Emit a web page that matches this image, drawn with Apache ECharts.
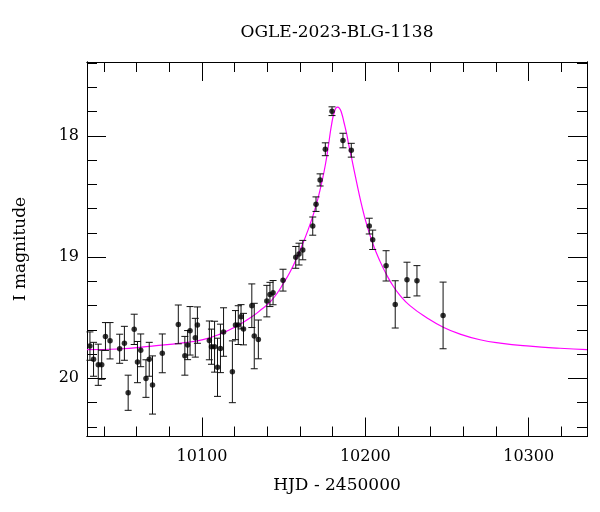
<!DOCTYPE html>
<html>
<head>
<meta charset="utf-8">
<script src="https://cdn.jsdelivr.net/npm/echarts@6/dist/echarts.min.js"></script>
<style>html,body{margin:0;padding:0;background:#fff}#c{width:600px;height:512px}</style>
</head>
<body>
<div id="c"></div>
<script>
var titleText = 'OGLE-2023-BLG-1138';
var xTitle = 'HJD - 2450000';
var yTitle = 'I magnitude';

var hjd = [10031.4, 10033.6, 10036.5, 10038.6, 10040.9, 10043.7, 10049.6, 10052.5, 10054.8, 10058.5,
  10060.5, 10062.5, 10065.7, 10067.7, 10069.7, 10075.7, 10085.5, 10089.5, 10091.2, 10092.7,
  10095.9, 10097.2, 10104.5, 10105.8, 10107.7, 10109.5, 10111.3, 10113.2, 10118.6, 10120.5,
  10122.2, 10123.9, 10125.4, 10130.5, 10132.0, 10134.5, 10139.7, 10141.6, 10143.5, 10149.6,
  10157.4, 10159.4, 10161.7, 10167.8, 10169.8, 10172.3, 10175.5, 10179.6, 10186.3, 10191.4,
  10202.4, 10204.5, 10212.7, 10218.3, 10225.5, 10231.6, 10247.6];
var mag = [19.734, 19.843, 19.888, 19.888, 19.655, 19.690, 19.756, 19.711, 20.119, 19.596,
  19.866, 19.769, 20.002, 19.843, 20.055, 19.794, 19.555, 19.814, 19.726, 19.608,
  19.665, 19.561, 19.687, 19.739, 19.739, 19.909, 19.753, 19.618, 19.946, 19.561,
  19.561, 19.492, 19.594, 19.401, 19.651, 19.679, 19.363, 19.308, 19.293, 19.190,
  19.002, 18.975, 18.942, 18.744, 18.563, 18.363, 18.110, 17.796, 18.038, 18.118,
  18.744, 18.857, 19.072, 19.390, 19.187, 19.195, 19.481];
var magErr = [0.117, 0.14, 0.17, 0.12, 0.115, 0.15, 0.12, 0.14, 0.145, 0.125,
  0.17, 0.135, 0.155, 0.14, 0.24, 0.16, 0.16, 0.16, 0.12, 0.2,
  0.16, 0.15, 0.16, 0.145, 0.21, 0.24, 0.2, 0.2, 0.255, 0.12,
  0.16, 0.1, 0.13, 0.18, 0.27, 0.16, 0.13, 0.1, 0.1, 0.09,
  0.09, 0.09, 0.08, 0.075, 0.06, 0.05, 0.053, 0.036, 0.06, 0.057,
  0.065, 0.08, 0.125, 0.195, 0.145, 0.125, 0.275];

var modelHjd = [10029.6, 10048.6, 10069.4, 10089.6, 10100.6, 10111.0, 10121.4, 10131.2, 10136.7, 10141.6,
  10145.9, 10149.6, 10153.9, 10157.6, 10161.2, 10164.9, 10168.0, 10171.0, 10173.3, 10175.5,
  10177.5, 10179.4, 10181.1, 10182.8, 10184.2, 10185.5, 10186.9, 10188.6, 10190.0, 10191.7,
  10194.7, 10197.2, 10200.8, 10204.9, 10209.0, 10213.1, 10217.1, 10221.2, 10227.3, 10237.6,
  10247.7, 10258.0, 10270.2, 10282.5, 10300.8, 10319.2, 10335.7];
var modelMag = [19.763, 19.758, 19.734, 19.705, 19.680, 19.635, 19.569, 19.486, 19.428, 19.371,
  19.300, 19.222, 19.122, 19.018, 18.905, 18.777, 18.655, 18.515, 18.385, 18.240,
  18.070, 17.900, 17.800, 17.763, 17.772, 17.813, 17.887, 17.986, 18.085, 18.190,
  18.385, 18.540, 18.730, 18.900, 19.035, 19.148, 19.240, 19.315, 19.400, 19.500,
  19.578, 19.635, 19.682, 19.710, 19.735, 19.752, 19.763];

var xMin = 10029.6, xMax = 10335.7;
var yMin = 17.39, yMax = 20.48;
var xMajor = [10100, 10200, 10300];
var xMinor = [10040, 10060, 10080, 10120, 10140, 10160, 10180, 10220, 10240, 10260, 10280, 10320];
var yMajor = [18, 19, 20];
var yMinor = [17.4, 17.6, 17.8, 18.2, 18.4, 18.6, 18.8, 19.2, 19.4, 19.6, 19.8, 20.2, 20.4];

var FONT = 'DejaVu Serif';
var chart = echarts.init(document.getElementById('c'), null, {renderer: 'canvas'});

function xAx(pos, ticks, len, labels) {
  return {
    type: 'value', position: pos, min: xMin, max: xMax,
    axisLine: {show: true, onZero: false, lineStyle: {color: '#000', width: 1}},
    splitLine: {show: false},
    axisTick: {show: true, inside: true, length: len, customValues: ticks, lineStyle: {color: '#000', width: 1}},
    axisLabel: labels ? {show: true, customValues: ticks, fontFamily: FONT, fontSize: 16, color: '#000', margin: 12,
      formatter: function (v) { return String(v); }} : {show: false}
  };
}
function yAx(pos, ticks, len, labels) {
  return {
    type: 'value', position: pos, min: yMin, max: yMax, inverse: true,
    axisLine: {show: true, onZero: false, lineStyle: {color: '#000', width: 1}},
    splitLine: {show: false},
    axisTick: {show: true, inside: true, length: len, customValues: ticks, lineStyle: {color: '#000', width: 1}},
    axisLabel: labels ? {show: true, customValues: ticks, fontFamily: FONT, fontSize: 16, color: '#000', margin: 8,
      formatter: function (v) { return String(v); }} : {show: false}
  };
}

var errData = hjd.map(function (t, i) { return [t, mag[i] - magErr[i], mag[i] + magErr[i]]; });
var ptData = hjd.map(function (t, i) { return [t, mag[i]]; });
var modelData = modelHjd.map(function (t, i) { return [t, modelMag[i]]; });

chart.setOption({
  animation: false,
  backgroundColor: '#fff',
  grid: {left: 87, right: 13, top: 62, bottom: 75.5, containLabel: false},
  xAxis: [
    xAx('bottom', xMajor, 19, true),
    xAx('bottom', xMinor, 10, false),
    xAx('top', xMajor, 19, false),
    xAx('top', xMinor, 10, false)
  ],
  yAxis: [
    yAx('left', yMajor, 19, true),
    yAx('left', yMinor, 10, false),
    yAx('right', yMajor, 19, false),
    yAx('right', yMinor, 10, false)
  ],
  graphic: [
    {type: 'text', x: 337, y: 33, style: {text: titleText, fontFamily: FONT, fontSize: 17, fill: '#000',
      textAlign: 'center', textVerticalAlign: 'middle'}},
    {type: 'text', x: 337, y: 486, style: {text: xTitle, fontFamily: FONT, fontSize: 17, fill: '#000',
      textAlign: 'center', textVerticalAlign: 'middle'}},
    {type: 'text', x: 21, y: 249, rotation: Math.PI / 2, style: {text: yTitle, fontFamily: FONT, fontSize: 17, fill: '#000',
      textAlign: 'center', textVerticalAlign: 'middle'}}
  ],
  series: [
    {
      type: 'line', xAxisIndex: 0, yAxisIndex: 0, data: modelData, showSymbol: false,
      smooth: 0.5, lineStyle: {color: '#ff00ff', width: 1.2}, z: 3, silent: true
    },
    {
      type: 'custom', xAxisIndex: 0, yAxisIndex: 0, data: errData, z: 4, silent: true,
      encode: {x: 0, y: [1, 2]},
      renderItem: function (params, api) {
        var x = api.value(0);
        var p1 = api.coord([x, api.value(1)]);
        var p2 = api.coord([x, api.value(2)]);
        var w = 3.5;
        var st = {stroke: '#111', lineWidth: 1};
        return {type: 'group', children: [
          {type: 'line', shape: {x1: p1[0], y1: p1[1], x2: p2[0], y2: p2[1]}, style: st},
          {type: 'line', shape: {x1: p1[0] - w, y1: p1[1], x2: p1[0] + w, y2: p1[1]}, style: st},
          {type: 'line', shape: {x1: p2[0] - w, y1: p2[1], x2: p2[0] + w, y2: p2[1]}, style: st}
        ]};
      }
    },
    {
      type: 'scatter', xAxisIndex: 0, yAxisIndex: 0, data: ptData, symbol: 'circle', symbolSize: 5.5,
      itemStyle: {color: '#000'}, z: 5, silent: true
    }
  ]
});
</script>
</body>
</html>
